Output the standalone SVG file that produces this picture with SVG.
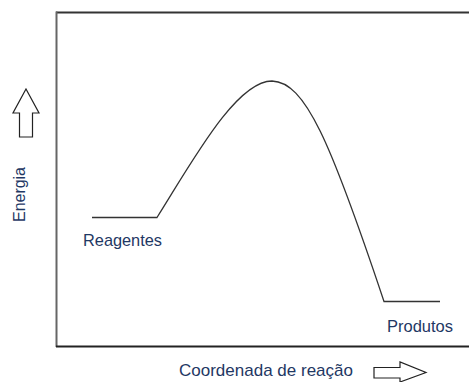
<svg xmlns="http://www.w3.org/2000/svg" width="469" height="382" viewBox="0 0 469 382">
<style>
.lbl{font-family:"Liberation Sans",Arial,sans-serif;font-size:17px;fill:#1F3864}
.curve{fill:none;stroke:#333;stroke-width:1.3}
.arrow{fill:#fff;stroke:#222;stroke-width:1.2;stroke-linejoin:miter}
</style>
<rect width="469" height="382" fill="#fff"/>
<g id="frame">
<line x1="56" y1="12.5" x2="470" y2="12.5" stroke="#333" stroke-width="2"/>
<line x1="56.5" y1="11.5" x2="56.5" y2="347" stroke="#666" stroke-width="2"/>
<line x1="56" y1="346.5" x2="470" y2="346.5" stroke="#222" stroke-width="2"/>
</g>
<g id="connectors">
<path class="curve" d="M92,217.5 L157,217.5 C192,162 236,81 272,81 C305,82 330,140 384,301.5 L440,301.5"/>
</g>
<g id="energy-axis">
<polygon class="arrow" points="26,89 39,113 32.5,113 32.5,137 19.5,137 19.5,113 13,113"/>
<text class="lbl" transform="translate(25,222) rotate(-90)" textLength="55" lengthAdjust="spacingAndGlyphs">Energia</text>
</g>
<g id="reaction-axis">
<text class="lbl" x="179" y="376" textLength="174" lengthAdjust="spacingAndGlyphs">Coordenada de reação</text>
<polygon class="arrow" points="374,367.5 400,367.5 400,362 426,372.5 400,382 400,378 374,378"/>
</g>
<g id="reagentes">
<text class="lbl" x="83" y="246" textLength="79" lengthAdjust="spacingAndGlyphs">Reagentes</text>
</g>
<g id="produtos">
<text class="lbl" x="387" y="332" textLength="66" lengthAdjust="spacingAndGlyphs">Produtos</text>
</g>
</svg>
